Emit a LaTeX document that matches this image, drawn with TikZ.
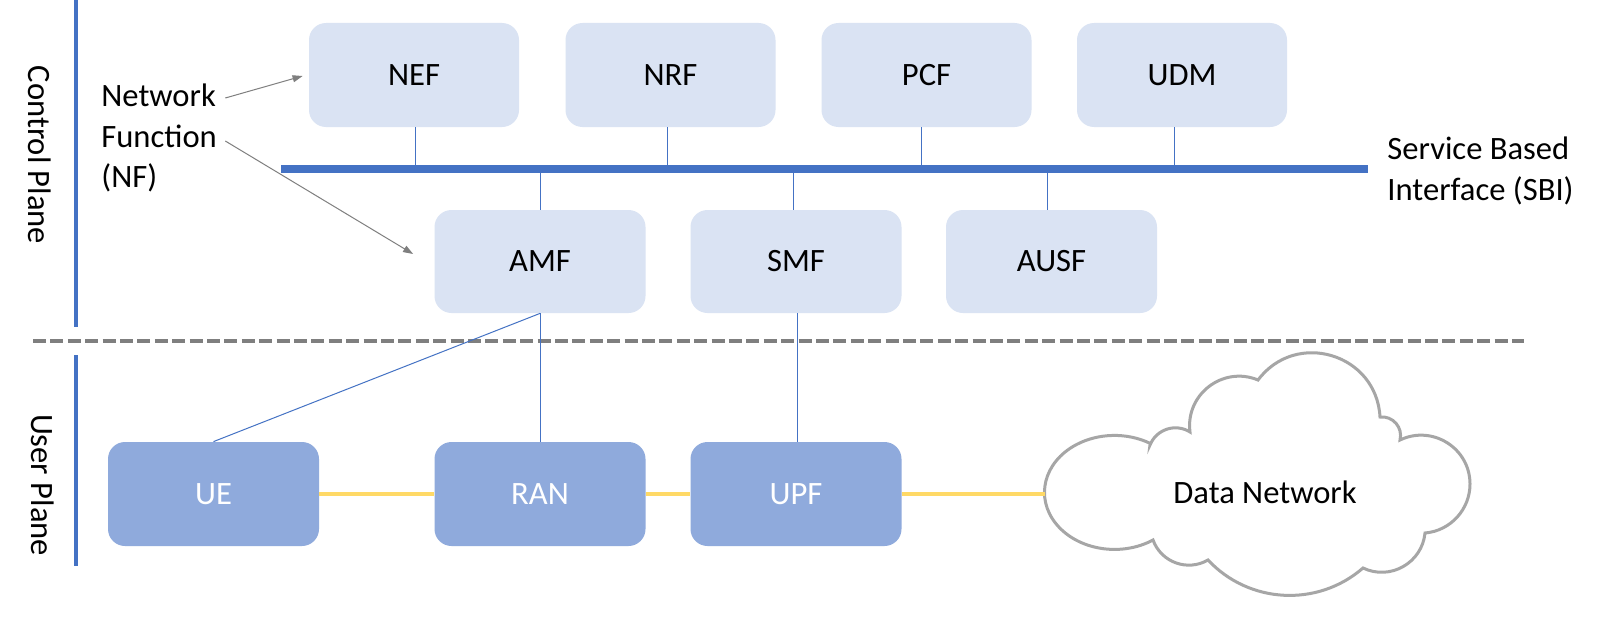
\documentclass[tikz,border=0pt]{standalone}
\usepackage{fontspec}
\setmainfont{Carlito}
\usetikzlibrary{arrows.meta,calc}
\definecolor{boxlight}{HTML}{DAE3F3}
\definecolor{boxdark}{HTML}{8FAADC}
\definecolor{accblue}{HTML}{4472C4}
\definecolor{upyellow}{HTML}{FFD966}
\definecolor{sepgray}{HTML}{7F7F7F}
\definecolor{cloudgray}{HTML}{A6A6A6}
\newcommand{\diagfont}{\fontsize{16.3}{20.3}\selectfont}
\begin{document}
\begin{tikzpicture}[x=0.5pt,y=0.5pt,
  cpbox/.style={rectangle,rounded corners=8.5pt,fill=boxlight,draw=none,minimum width=105pt,minimum height=52pt,inner sep=0pt,font=\diagfont},
  upbox/.style={cpbox,fill=boxdark,text=white},
  thinlink/.style={draw=accblue,line width=0.5pt},
  uplink/.style={draw=upyellow,line width=2pt},
  nfarrow/.style={draw=sepgray,line width=0.5pt,-{Triangle[length=5pt,width=3.5pt]}},
  plane/.style={draw=accblue,line width=2.3pt},
  lbl/.style={font=\diagfont,inner sep=0pt,align=left}
]
\fill[white] (0,0) rectangle (1600,623);
\useasboundingbox (0,0) rectangle (1600,623);

% plane separators
\coordinate (cpt) at (76,623);
\coordinate (cpb) at (76,296);
\coordinate (upt) at (76,268);
\coordinate (upb) at (76,57);
\draw[plane] (cpt) -- (cpb);
\draw[plane] (upt) -- (upb);
\node[lbl,rotate=-90] (cplabel) at (40,468) {Control Plane};
\node[lbl,rotate=-90] (uplabel) at (43,138) {User Plane};
\coordinate (sepL) at (33,282);
\coordinate (sepR) at (1524,282);
\draw[sepgray,line width=2pt,dash pattern=on 6.5pt off 2.2pt] (sepL) -- (sepR);

% boxes
\node[cpbox] (nef) at (414,548) {NEF};
\node[cpbox] (nrf) at (670.5,548) {NRF};
\node[cpbox] (pcf) at (926.5,548) {PCF};
\node[cpbox] (udm) at (1182,548) {UDM};
\node[cpbox,minimum width=105.5pt,minimum height=51.5pt] (amf) at (540,361.5) {AMF};
\node[cpbox,minimum width=105.5pt,minimum height=51.5pt] (smf) at (796,361.5) {SMF};
\node[cpbox,minimum width=105.5pt,minimum height=51.5pt] (ausf) at (1051.5,361.5) {AUSF};
\node[upbox,minimum width=105.5pt] (ue) at (213.5,129) {UE};
\node[upbox,minimum width=105.5pt] (ran) at (540,129) {RAN};
\node[upbox,minimum width=105.5pt] (upf) at (796,129) {UPF};

% service based interface bus
\coordinate (busL) at (281,454);
\coordinate (busR) at (1368,454);
\draw[thinlink] ([xshift=0.5pt]nef.south) -- ([xshift=0.5pt]nef.south |- busL);
\draw[thinlink] ([xshift=-1.75pt]nrf.south) -- ([xshift=-1.75pt]nrf.south |- busL);
\draw[thinlink] ([xshift=-2.75pt]pcf.south) -- ([xshift=-2.75pt]pcf.south |- busL);
\draw[thinlink] ([xshift=-4pt]udm.south) -- ([xshift=-4pt]udm.south |- busL);
\draw[thinlink] (amf.north) -- (amf.north |- busL);
\draw[thinlink] ([xshift=-1.5pt]smf.north) -- ([xshift=-1.5pt]smf.north |- busL);
\draw[thinlink] ([xshift=-2.25pt]ausf.north) -- ([xshift=-2.25pt]ausf.north |- busL);
\draw[accblue,line width=3.75pt] (busL) -- (busR);
\node[lbl,anchor=north west] (sbi) at (1387,486.5) {Service Based\\Interface (SBI)};

% control to user plane links
\draw[thinlink] (amf.south) -- (ue.north);
\draw[thinlink] (amf.south) -- (ran.north);
\draw[thinlink] ([xshift=0.5pt]smf.south) -- ([xshift=0.5pt]upf.north);

% data network cloud
\draw[cloudgray,line width=1.5pt,fill=white]
  (1150,178) to[out=68,in=148,looseness=1.04] (1190,191)
  to[out=97.4,in=157.4,looseness=1.135] (1258,243)
  to[out=53.1,in=93.1,looseness=1.27] (1380,206)
  to[out=6,in=76,looseness=1.08] (1400,183)
  to[out=25.6,in=90,looseness=1.11] (1470,139)
  to[out=-90,in=4.75,looseness=0.98] (1425,90)
  to[out=-95.6,in=-25.6,looseness=1.08] (1363,55)
  to[out=-138.95,in=-46.95,looseness=0.99] (1208,63)
  to[out=-150,in=-70,looseness=1.04] (1153,83)
  arc[start angle=-56.6,end angle=-300.7,x radius=70,y radius=57]
  -- cycle;
\node[lbl] (dn) at (1265,130.5) {Data Network};
\coordinate (dnw) at (1044.5,129);

% user plane links
\draw[uplink] (ue.east) -- (ran.west);
\draw[uplink] (ran.east) -- (upf.west);
\draw[uplink] (upf.east) -- (upf.east -| dnw);

% network function label
\node[lbl,anchor=north west] (nf) at (101,539.5) {Network\\Function\\(NF)};
\draw[nfarrow] ([shift={(8,-14.5)}]nf.north east) -- ([shift={(-6,-1)}]nef.west);
\draw[nfarrow] ([shift={(8,-57.5)}]nf.north east) -- ([shift={(-21,7.5)}]amf.west);
\end{tikzpicture}
\end{document}
